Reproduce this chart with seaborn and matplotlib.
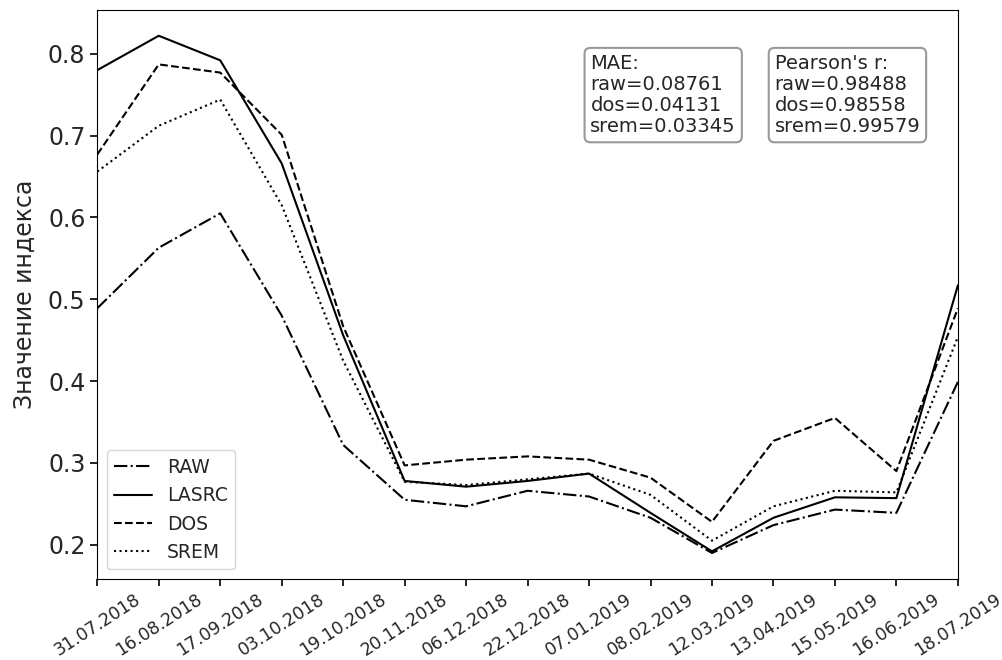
import matplotlib
matplotlib.use("Agg")
import matplotlib.pyplot as plt
import pandas as pd
import seaborn as sns

# dates of the scenes
dates = ["31.07.2018", "16.08.2018", "17.09.2018", "03.10.2018", "19.10.2018",
         "20.11.2018", "06.12.2018", "22.12.2018", "07.01.2019", "08.02.2019",
         "12.03.2019", "13.04.2019", "15.05.2019", "16.06.2019", "18.07.2019"]

# index values
raw = [0.489, 0.563, 0.605, 0.480, 0.322, 0.255, 0.247, 0.266, 0.259, 0.233,
       0.190, 0.224, 0.243, 0.239, 0.399]
lasrc = [0.780, 0.822, 0.792, 0.666, 0.456, 0.278, 0.271, 0.278, 0.287, 0.239,
         0.192, 0.233, 0.258, 0.257, 0.517]
dos = [0.677, 0.787, 0.777, 0.701, 0.467, 0.297, 0.304, 0.308, 0.304, 0.282,
       0.228, 0.327, 0.355, 0.290, 0.489]
srem = [0.656, 0.712, 0.744, 0.615, 0.425, 0.277, 0.273, 0.280, 0.287, 0.261,
        0.205, 0.247, 0.266, 0.264, 0.454]

series_names = ["RAW", "LASRC", "DOS", "SREM"]
mae_text = "MAE:\nraw=0.08761\ndos=0.04131\nsrem=0.03345"
pearson_text = "Pearson's r:\nraw=0.98488\ndos=0.98558\nsrem=0.99579"

frames = []
for name, vals in zip(series_names, [raw, lasrc, dos, srem]):
    frames.append(pd.DataFrame({"date": dates, "value": vals, "series": name}))
df = pd.concat(frames, ignore_index=True)

sns.set_style("ticks")
plt.rcParams["font.family"] = ["DejaVu Sans"]

fig = plt.figure(figsize=(10.03, 6.6), dpi=100)
ax = fig.add_subplot(111)
fig.subplots_adjust(left=0.097, right=0.955, top=0.985, bottom=0.123)

dash_map = {"RAW": (6.4, 1.6, 1.0, 1.6), "LASRC": "", "DOS": (3.7, 1.6), "SREM": (1.0, 1.65)}
sns.lineplot(data=df, x="date", y="value", style="series", style_order=series_names,
             dashes=dash_map, color="black", linewidth=1.5, sort=False, ax=ax)

ax.set_xlim(0, len(dates) - 1)
ax.set_xlabel("")
ax.set_ylabel("Значение индекса", fontsize=17, labelpad=8)
ax.tick_params(axis="both", length=5, width=1.2, color="black")
ax.tick_params(axis="y", labelsize=17)
ax.tick_params(axis="x", labelsize=12.5)
for lbl in ax.get_xticklabels():
    lbl.set_rotation(33)

for sp in ax.spines.values():
    sp.set_visible(True)
    sp.set_color("black")

leg = ax.legend(loc="lower left", fontsize=13.5, title=None)

box = dict(boxstyle="round", facecolor="white", edgecolor="#999999", linewidth=1.5)
ax.text(0.573, 0.923, mae_text, transform=ax.transAxes, fontsize=14,
        va="top", ha="left", bbox=box, linespacing=1.15)
ax.text(0.787, 0.923, pearson_text, transform=ax.transAxes, fontsize=14,
        va="top", ha="left", bbox=box, linespacing=1.15)

plt.savefig("out.png", dpi=100)
